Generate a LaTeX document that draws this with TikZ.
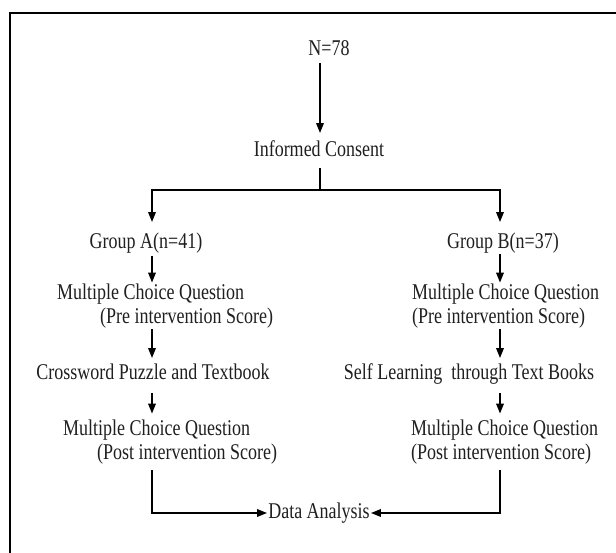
\documentclass[tikz,border=0pt]{standalone}
\usepackage{fontspec}
\setmainfont{Liberation Serif}[FakeStretch=0.8]
\usetikzlibrary{arrows.meta}
\begin{document}
\begin{tikzpicture}[x=1pt,y=-1pt,
  lbl/.style={inner sep=0pt,text height=15pt,text depth=4.5pt,font=\fontsize{22.5}{24}\selectfont,text=black!88},
  mlbl/.style={inner sep=0pt,align=left,font=\fontsize{22.5}{24}\selectfont,text=black!88},
  conn/.style={line width=1.8pt,line join=miter},
  arr/.style={conn,-{Triangle[length=10pt,width=7.5pt]}}]
\useasboundingbox (0,0) rectangle (616,553);
% frame
\draw[line width=1.4pt] (10,553) -- (10,13) -- (616,13);
% column coordinates
\coordinate (cT) at (320,0);
\coordinate (cA) at (152,0);
\coordinate (cB) at (500,0);
\coordinate (split) at (320,190);
% nodes
\node[lbl] (n78) at (329,50) {N=78};
\node[lbl] (ic) at (319,151) {Informed Consent};
\node[lbl] (gA) at (146,243) {Group A(n=41)};
\node[lbl] (gB) at (503,243) {Group B(n=37)};
\node[mlbl,anchor=west] (preA) at (57,306) {Multiple Choice Question\\\hspace*{43pt}(Pre intervention Score)};
\node[mlbl,anchor=west] (preB) at (412,306) {Multiple Choice Question\\(Pre intervention Score)};
\node[lbl] (cwA) at (153,374) {Crossword Puzzle and Textbook};
\node[lbl] (slB) at (469,374) {Self Learning\ \ through Text Books};
\node[mlbl,anchor=west] (postA) at (63,442) {Multiple Choice Question\\\hspace*{34pt}(Post intervention Score)};
\node[mlbl,anchor=west] (postB) at (411,442) {Multiple Choice Question\\(Post intervention Score)};
\node[lbl,inner xsep=1pt] (da) at (319,513) {Data Analysis};
% connectors
\draw[arr] ([yshift=-3pt]n78.south -| cT) -- ([yshift=8pt]ic.north -| cT);
\draw[conn] ([yshift=-7pt]ic.south -| cT) -- (split);
\draw[arr] (split) -| ([yshift=11pt]gA.north -| cA);
\draw[arr] (split) -| ([yshift=11pt]gB.north -| cB);
\draw[arr] ([yshift=-3pt]gA.south -| cA) -- ([yshift=1pt]preA.north -| cA);
\draw[arr] ([yshift=-1pt]gB.south -| cB) -- ([yshift=1pt]preB.north -| cB);
\draw[arr] ([yshift=-1pt]preA.south -| cA) -- ([yshift=6pt]cwA.north -| cA);
\draw[arr] ([yshift=-1pt]preB.south -| cB) -- ([yshift=6pt]slB.north -| cB);
\draw[arr] ([yshift=-9pt]cwA.south -| cA) -- ([yshift=6pt]postA.north -| cA);
\draw[arr] ([yshift=-9pt]slB.south -| cB) -- ([yshift=6pt]postB.north -| cB);
\draw[arr] ([yshift=-6pt]postA.south -| cA) |- (da.west);
\draw[arr] ([yshift=-6pt]postB.south -| cB) |- (da.east);
\end{tikzpicture}
\end{document}
